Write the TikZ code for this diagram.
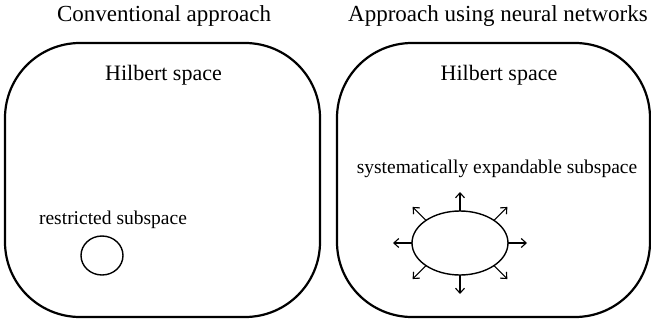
\documentclass[tikz,border=0pt]{standalone}
\usepackage{fontspec}
\setmainfont{Liberation Serif}
\usetikzlibrary{shapes.geometric,arrows.meta}
\begin{document}
\begin{tikzpicture}[x=1pt,y=1pt,
    hilbert/.style={line width=2.2pt,rounded corners=75pt},
    subspace/.style={draw,ellipse,line width=1.4pt,inner sep=0pt},
    spoke/.style={line width=1.1pt,-{Straight Barb[length=5pt,width=9pt]}},
    heading/.style={anchor=base,font=\rmfamily\fontsize{23}{27}\selectfont},
    hilbtext/.style={anchor=base,font=\rmfamily\fontsize{22}{26}\selectfont},
    sublabel/.style={anchor=base,font=\rmfamily\fontsize{19.5}{23}\selectfont}]
            \useasboundingbox (0, 0) rectangle (651, 325);

            % conventional approach
            \draw[hilbert] (5, 8) rectangle (320, 282);

            \node[heading] (t1) at (164, 304) {Conventional approach};
            \node[hilbtext] (h1) at (163.5, 245) {Hilbert space};
            \node[sublabel] (l1) at (113, 101) {restricted subspace};

            \node[subspace,minimum width=42pt,minimum height=39pt] (rs) at (102, 69.5) {};

            % approach using neural networks
            \draw[hilbert] (337, 8) rectangle (650, 282);

            \node[heading] (t2) at (498, 304) {Approach using neural networks};
            \node[hilbtext] (h2) at (499, 245) {Hilbert space};
            \node[sublabel] (l2) at (497, 151.5) {systematically expandable subspace};

            \node[subspace,minimum width=96pt,minimum height=64pt] (es) at (460, 82) {};

            \foreach \a in {0,45,...,315} {
                \path (es.center) ++(\a:48pt and 32pt) coordinate (base\a)
                    ++(\a:19pt) coordinate (tip\a);
                \draw[spoke] (base\a) -- (tip\a);
            }
        \end{tikzpicture}
\end{document}
